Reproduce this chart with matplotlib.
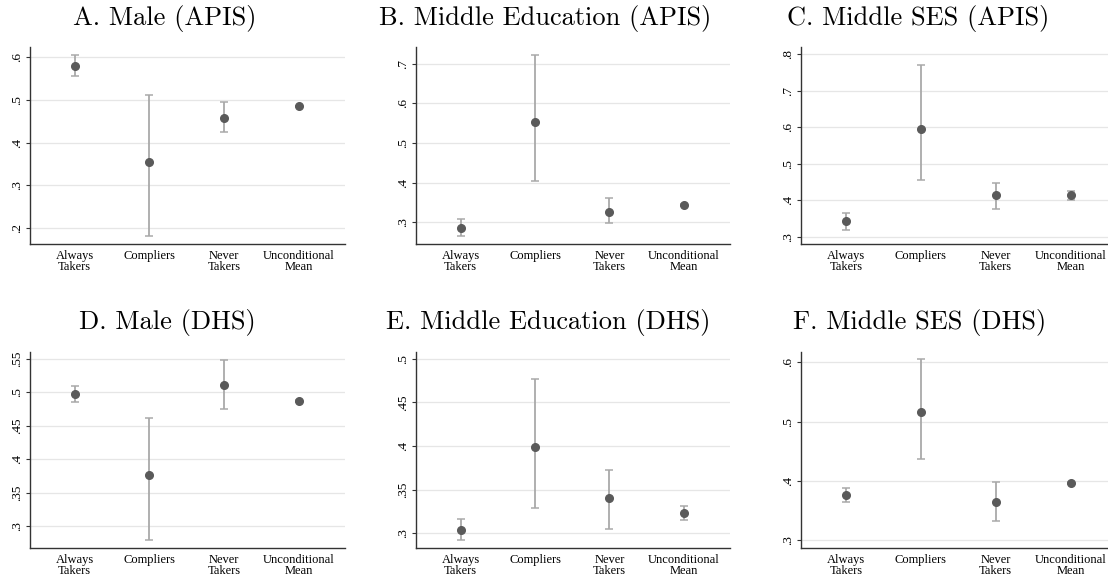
import matplotlib
matplotlib.use("Agg")
import matplotlib.pyplot as plt
from matplotlib.ticker import FixedLocator, FuncFormatter

categories = ["Always\nTakers", "Compliers", "Never\nTakers", "Unconditional\nMean"]

titles = [
    "A. Male (APIS)",
    "B. Middle Education (APIS)",
    "C. Middle SES (APIS)",
    "D. Male (DHS)",
    "E. Middle Education (DHS)",
    "F. Middle SES (DHS)",
]

# point estimates and 95% CI bounds, one list per panel
est_a = [0.580, 0.354, 0.459, 0.485]
lo_a = [0.556, 0.181, 0.425, 0.483]
hi_a = [0.606, 0.513, 0.495, 0.487]

est_b = [0.286, 0.553, 0.327, 0.344]
lo_b = [0.265, 0.403, 0.297, 0.342]
hi_b = [0.308, 0.723, 0.360, 0.346]

est_c = [0.343, 0.594, 0.413, 0.413]
lo_c = [0.319, 0.455, 0.377, 0.400]
hi_c = [0.365, 0.771, 0.448, 0.426]

est_d = [0.497, 0.376, 0.511, 0.487]
lo_d = [0.485, 0.279, 0.475, 0.486]
hi_d = [0.510, 0.461, 0.548, 0.488]

est_e = [0.304, 0.399, 0.340, 0.323]
lo_e = [0.292, 0.329, 0.305, 0.315]
hi_e = [0.316, 0.477, 0.373, 0.331]

est_f = [0.376, 0.517, 0.365, 0.397]
lo_f = [0.364, 0.437, 0.332, 0.395]
hi_f = [0.389, 0.606, 0.398, 0.399]

y_ticks = [
    [0.2, 0.3, 0.4, 0.5, 0.6],
    [0.3, 0.4, 0.5, 0.6, 0.7],
    [0.3, 0.4, 0.5, 0.6, 0.7, 0.8],
    [0.3, 0.35, 0.4, 0.45, 0.5, 0.55],
    [0.3, 0.35, 0.4, 0.45, 0.5],
    [0.3, 0.4, 0.5, 0.6],
]
y_limits = [
    (0.163, 0.625),
    (0.245, 0.743),
    (0.280, 0.821),
    (0.2666, 0.561),
    (0.2828, 0.508),
    (0.2865, 0.618),
]

panels = [
    (est_a, lo_a, hi_a),
    (est_b, lo_b, hi_b),
    (est_c, lo_c, hi_c),
    (est_d, lo_d, hi_d),
    (est_e, lo_e, hi_e),
    (est_f, lo_f, hi_f),
]

W, H = 1108, 580
# axes boxes in pixels: left, top, right, bottom
col_px = [(30, 345), (416, 730), (801, 1108)]
row_px = [(46.7, 244), (351.7, 548.3)]
x_limits = [(0.4, 4.62), (0.4, 4.62), (0.4, 4.5)]
title_x = [[165, 545, 918], [167, 548, 920]]
title_y = [25, 329]


def fmt_tick(v, _pos):
    return f"{v:g}".lstrip("0")


def draw_panel(ax, est, lo, hi, ticks, ylim, xlim):
    x = list(range(1, len(categories) + 1))
    yerr = [[e - l for e, l in zip(est, lo)], [h - e for e, h in zip(est, hi)]]
    ax.errorbar(x, est, yerr=yerr, fmt="none", ecolor="#a9a9a9",
                elinewidth=1.3, capsize=3, capthick=1.1, zorder=2)
    ax.plot(x, est, "o", color="#5a5a5a", markersize=5.5, zorder=3)

    ax.set_xlim(*xlim)
    ax.set_ylim(*ylim)
    ax.set_xticks(x)
    ax.set_xticklabels(categories, fontfamily="Liberation Serif",
                       fontsize=9, linespacing=0.9)
    ax.yaxis.set_major_locator(FixedLocator(ticks))
    ax.yaxis.set_major_formatter(FuncFormatter(fmt_tick))

    ax.tick_params(axis="x", length=0, pad=4)
    ax.tick_params(axis="y", length=3, width=0.8, color="#333333", pad=2,
                   labelsize=9.5, labelrotation=90,
                   labelfontfamily="Liberation Serif")
    for lab in ax.get_yticklabels():
        lab.set_va("center")
    ax.grid(axis="y", color="#e6e6e6", linewidth=0.9)
    ax.set_axisbelow(True)
    for side in ["top", "right"]:
        ax.spines[side].set_visible(False)
    for side in ["left", "bottom"]:
        ax.spines[side].set_color("#333333")
        ax.spines[side].set_linewidth(1.0)


def main() -> None:
    fig = plt.figure(figsize=(W / 100, H / 100), dpi=100)
    for i, (est, lo, hi) in enumerate(panels):
        r, c = divmod(i, 3)
        left, right = col_px[c]
        top, bottom = row_px[r]
        ax = fig.add_axes([left / W, 1 - bottom / H, (right - left) / W, (bottom - top) / H])
        draw_panel(ax, est, lo, hi, y_ticks[i], y_limits[i], x_limits[c])
        fig.text(title_x[r][c] / W, 1 - title_y[r] / H, titles[i],
                 ha="center", va="baseline", fontfamily="cmr10", fontsize=19)

    fig.savefig("out.png", dpi=100)
    plt.close(fig)


if __name__ == "__main__":
    main()
